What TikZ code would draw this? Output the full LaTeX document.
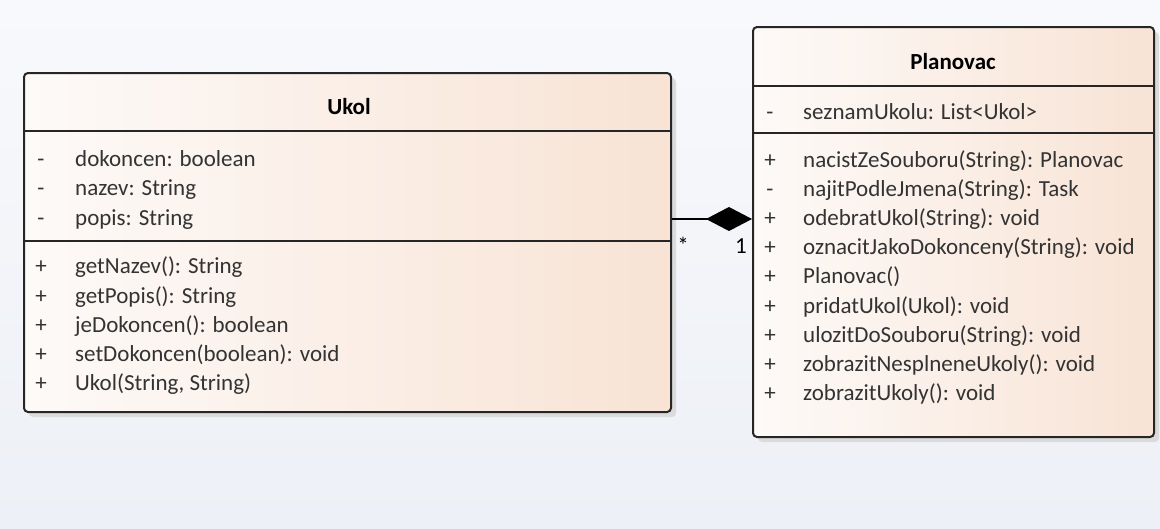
\documentclass[tikz,border=0pt]{standalone}
\usepackage{fontspec}
\setmainfont{Carlito}
\usetikzlibrary{shadows,arrows.meta}
\definecolor{bgtop}{HTML}{F8F9FC}
\definecolor{bgbot}{HTML}{EDF0F6}
\definecolor{boxl}{HTML}{FDFAF8}
\definecolor{boxr}{HTML}{F8E3D5}
\definecolor{txt}{HTML}{333333}
\begin{document}
\begin{tikzpicture}[x=1pt,y=-1pt,
  classbox/.style={draw=black!85, line width=2pt, rounded corners=4pt,
    left color=boxl, right color=boxr, inner sep=0pt,
    drop shadow={shadow xshift=5pt, shadow yshift=-5pt, fill=black!14, opacity=1}},
  sep/.style={draw=black!85, line width=2pt},
  title/.style={font=\fontsize{23}{27}\selectfont\bfseries, text=black, anchor=base, inner sep=0pt},
  mem/.style={font=\fontsize{23}{27}\selectfont, text=txt, anchor=base west, inner sep=0pt},
  vis/.style={font=\fontsize{23}{27}\selectfont, text=txt, anchor=base, inner sep=0pt},
  mult/.style={font=\fontsize{23}{27}\selectfont, text=black, inner sep=0pt}]
\useasboundingbox (0,0) rectangle (1160,528);
\shade[top color=bgtop, bottom color=bgbot] (0,0) rectangle (1160,528);
% Ukol class
\node[classbox, minimum width=647pt, minimum height=339pt] (ukol) at (347.5,242.5) {};
\draw[sep] (ukol.west |- 0,131) -- (ukol.east |- 0,131);
\draw[sep] (ukol.west |- 0,241) -- (ukol.east |- 0,241);
\node[title] (ukolt) at (349,114) {Ukol};
\foreach \i/\y/\v/\t in {1/166/-/{dokoncen: boolean},2/195/-/{nazev: String},3/225/-/{popis: String},
  4/273/+/{getNazev(): String},5/303/+/{getPopis(): String},6/332/+/{jeDokoncen(): boolean},
  7/361/+/{setDokoncen(boolean): void},8/390/+/{Ukol(String, String)}}{
  \node[vis] (uv\i) at (41,\y) {\v};
  \node[mem] (um\i) at (75,\y) {\t};
}
% Planovac class
\node[classbox, minimum width=401pt, minimum height=410pt] (plan) at (953.5,232) {};
\draw[sep] (plan.west |- 0,86) -- (plan.east |- 0,86);
\draw[sep] (plan.west |- 0,133) -- (plan.east |- 0,133);
\node[title] (plant) at (953,69) {Planovac};
\foreach \i/\y/\v/\t in {1/119/-/{seznamUkolu: List<Ukol>},
  2/167/+/{nacistZeSouboru(String): Planovac},3/196/-/{najitPodleJmena(String): Task},
  4/225/+/{odebratUkol(String): void},5/254/+/{oznacitJakoDokonceny(String): void},
  6/283/+/{Planovac()},7/313/+/{pridatUkol(Ukol): void},8/342/+/{ulozitDoSouboru(String): void},
  9/371/+/{zobrazitNesplneneUkoly(): void},10/400/+/{zobrazitUkoly(): void}}{
  \node[vis] (pv\i) at (770,\y) {\v};
  \node[mem] (pm\i) at (803,\y) {\t};
}
% composition
\draw[line width=1.6pt, -{Diamond[length=46pt,width=24pt]}] (ukol.east |- 0,219) -- (plan.west |- 0,219);
\node[mult] (mstar) at (683,245) {*};
\node[mult] (mone) at (741,246) {1};
\end{tikzpicture}
\end{document}
